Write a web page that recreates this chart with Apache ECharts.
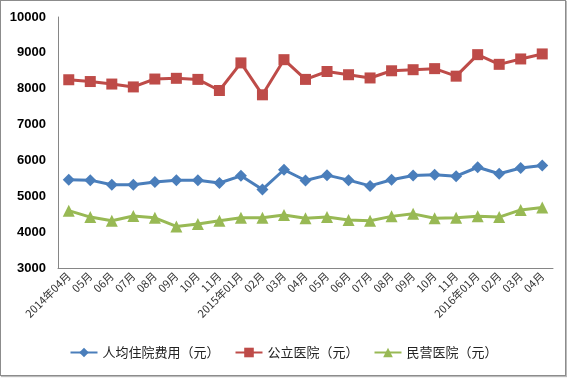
<!DOCTYPE html>
<html><head><meta charset="utf-8">
<script src="https://cdn.jsdelivr.net/npm/echarts@6/dist/echarts.min.js"></script>
<style>
html,body{margin:0;padding:0;background:#fff;}
#frame{position:absolute;left:0;top:0;width:564px;height:374px;border:1px solid #8c8c8c;box-shadow:1px 1px 1px #bbb;}
#c{position:absolute;left:0;top:0;width:567px;height:378px;}
</style></head>
<body>
<div id="frame"></div>
<div id="c"></div>
<script>
const categories = ['2014年04月','05月','06月','07月','08月','09月','10月','11月','2015年01月','02月','03月','04月','05月','06月','07月','08月','09月','10月','11月','2016年01月','02月','03月','04月'];
const perCapita = [5460,5450,5320,5320,5400,5450,5450,5370,5570,5190,5740,5440,5590,5450,5290,5460,5580,5600,5560,5810,5630,5790,5860];
const publicHosp = [8250,8200,8130,8050,8270,8290,8260,7950,8720,7830,8810,8260,8480,8390,8300,8500,8530,8560,8350,8950,8680,8830,8970];
const privateHosp = [4600,4420,4320,4450,4400,4160,4230,4320,4400,4400,4480,4390,4420,4340,4320,4440,4510,4390,4400,4440,4420,4620,4690];
const seriesNames = ['人均住院费用（元）','公立医院（元）','民营医院（元）'];

const chart = echarts.init(document.getElementById('c'));
const font = '"Liberation Sans", "Noto Sans CJK SC", sans-serif';
function mk(name, data, color, symbol, size){
  return {name, type:'line', data, symbol, symbolSize:size,
    lineStyle:{color, width:3}, itemStyle:{color}, animation:false};
}
chart.setOption({
  animation:false,
  grid:{left:58, right:14, top:17, bottom:110},
  legend:{bottom:14, left:'center', itemWidth:27, itemHeight:12, itemGap:15,
    textStyle:{fontSize:13, color:'#222', fontFamily:'"Noto Sans CJK SC", sans-serif'},
    data:seriesNames},
  xAxis:{type:'category', data:categories, boundaryGap:true,
    axisLine:{lineStyle:{color:'#868686'}},
    axisTick:{inside:true, length:5, lineStyle:{color:'#868686'}, alignWithLabel:false},
    axisLabel:{rotate:45, interval:0, fontSize:11, color:'#333', margin:6, fontFamily:'"Noto Sans CJK SC", sans-serif'}},
  yAxis:{type:'value', min:3000, max:10000, interval:1000,
    splitLine:{show:false},
    axisLine:{show:true, lineStyle:{color:'#868686'}},
    axisTick:{show:false},
    axisLabel:{fontSize:13, fontWeight:'bold', color:'#000', margin:12, fontFamily:font,
      formatter: v => String(v)}},
  series:[
    mk(seriesNames[0], perCapita, '#4A7EBB', 'diamond', 12),
    mk(seriesNames[1], publicHosp, '#BE4B48', 'rect', 11),
    mk(seriesNames[2], privateHosp, '#98B954', 'triangle', 12)
  ]
});
</script>
</body></html>
